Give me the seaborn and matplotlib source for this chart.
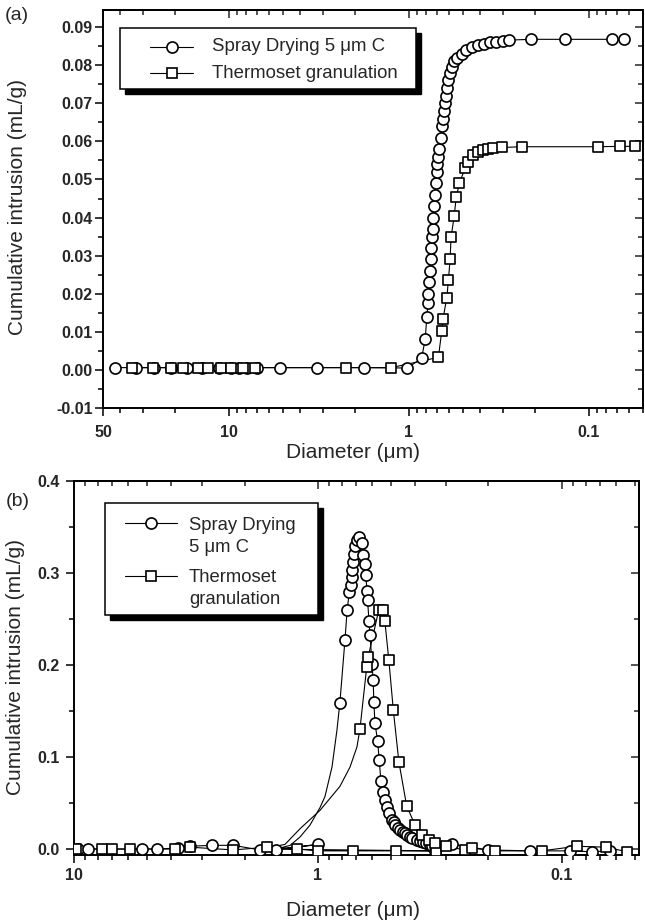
import matplotlib
matplotlib.use('Agg')
import matplotlib.pyplot as plt
import seaborn as sns
from matplotlib.lines import Line2D
from matplotlib.patches import Rectangle
from matplotlib.ticker import FixedLocator, NullFormatter, MultipleLocator, FormatStrFormatter, FuncFormatter

sns.set_style('ticks')
plt.rcParams['font.family'] = ['Liberation Sans', 'DejaVu Sans']
plt.rcParams['axes.unicode_minus'] = False

# ---- panel (a): cumulative intrusion ----
a_sd_d = [42.7, 32.8, 25.9, 20.9, 17.0, 14.1, 11.4, 9.76, 8.79, 7.91, 6.93, 5.19, 3.23, 1.77, 1.02,
          0.849, 0.810, 0.793, 0.781, 0.777, 0.768, 0.764, 0.756, 0.748, 0.745,
          0.737, 0.729, 0.725, 0.710, 0.706, 0.699, 0.692, 0.688, 0.681, 0.663,
          0.653, 0.646, 0.636, 0.626, 0.619, 0.613, 0.603, 0.590, 0.575, 0.557,
          0.537, 0.509, 0.483, 0.447, 0.413, 0.381, 0.352, 0.326, 0.301, 0.278,
          0.208, 0.136, 0.0744, 0.0636]
a_sd_v = [0.0006, 0.0006, 0.0006, 0.0006, 0.0006, 0.0006, 0.0006, 0.0006, 0.0006, 0.0006,
          0.0006, 0.0006, 0.0006, 0.0006, 0.0005,
          0.003, 0.008, 0.014, 0.0175, 0.020, 0.023, 0.026, 0.029, 0.032, 0.035,
          0.037, 0.040, 0.043, 0.046, 0.049, 0.052, 0.054, 0.056, 0.058, 0.061,
          0.064, 0.066, 0.068, 0.070, 0.072, 0.074, 0.076, 0.078, 0.0795, 0.081,
          0.082, 0.083, 0.084, 0.0848, 0.0853, 0.0857, 0.086, 0.0862, 0.0864, 0.0866,
          0.0868, 0.0868, 0.0868, 0.0868]

a_tg_d = [34.5, 26.5, 20.9, 17.9, 14.9, 13.1, 11.1, 9.76, 8.34, 7.12, 2.24, 1.25,
          0.684, 0.655, 0.645, 0.614, 0.602, 0.589, 0.582, 0.559, 0.545, 0.523,
          0.486, 0.466, 0.437, 0.410, 0.385, 0.361, 0.338, 0.304, 0.235, 0.0883,
          0.0667, 0.055]
a_tg_v = [0.0006, 0.0006, 0.0006, 0.0006, 0.0006, 0.0006, 0.0006, 0.0006, 0.0006, 0.0006,
          0.0006, 0.0006,
          0.0033, 0.0103, 0.0134, 0.019, 0.0235, 0.029, 0.0348, 0.0403, 0.0453, 0.049,
          0.053, 0.0546, 0.0564, 0.0573, 0.0577, 0.058, 0.0582, 0.0584, 0.0586, 0.0586,
          0.0587, 0.0587]

# ---- panel (b): log differential intrusion ----
# low pressure run (markers)
b_sd_low_d = [9.60, 8.74, 5.28, 4.58, 3.75, 3.35, 2.73, 2.22, 1.73, 1.48, 0.997]
b_sd_low_v = [0.000, 0.000, 0.000, 0.000, 0.001, 0.003, 0.004, 0.004, -0.001, -0.001, 0.005]
# smooth connecting curve (no markers)
b_sd_rise_d = [1.48, 1.30, 1.185, 1.078, 0.981, 0.936, 0.876, 0.836]
b_sd_rise_v = [0.000, 0.004, 0.013, 0.026, 0.045, 0.057, 0.089, 0.129]
# high pressure run (markers)
b_sd_high_d = [0.813, 0.775, 0.759, 0.744, 0.735, 0.727, 0.723, 0.717, 0.710, 0.703,
               0.694, 0.677, 0.662, 0.652, 0.642, 0.638, 0.628, 0.626, 0.618, 0.612,
               0.600, 0.594, 0.590, 0.584, 0.569, 0.561, 0.552, 0.540, 0.532, 0.520,
               0.510, 0.499, 0.490, 0.483, 0.470, 0.461, 0.450, 0.440, 0.430, 0.420,
               0.410, 0.394, 0.380, 0.370, 0.360, 0.348, 0.340, 0.331, 0.281, 0.200,
               0.135, 0.093, 0.0755, 0.0636]
b_sd_high_v = [0.159, 0.227, 0.260, 0.279, 0.287, 0.296, 0.303, 0.312, 0.321, 0.329,
               0.336, 0.339, 0.333, 0.320, 0.310, 0.298, 0.280, 0.271, 0.248, 0.233,
               0.201, 0.184, 0.160, 0.137, 0.117, 0.097, 0.074, 0.062, 0.053, 0.046,
               0.039, 0.032, 0.029, 0.026, 0.023, 0.021, 0.019, 0.017, 0.015, 0.013,
               0.0115, 0.0103, 0.009, 0.008, 0.006, 0.0043, 0.003, -0.002, 0.005, -0.001,
               -0.002, -0.002, -0.003, -0.002]

b_tg_low_d = [9.81, 7.70, 7.01, 5.89, 3.85, 3.35, 2.22, 1.62, 1.22, 0.997, 0.717, 0.479, 0.328]
b_tg_low_v = [0.000, 0.000, 0.000, 0.000, 0.000, 0.002, -0.001, 0.002, 0.000, -0.002, -0.002, -0.002, -0.002]
b_tg_rise_d = [1.70, 1.365, 1.185, 1.078, 0.981, 0.813, 0.739, 0.692]
b_tg_rise_v = [0.000, 0.005, 0.022, 0.032, 0.042, 0.068, 0.089, 0.111]
b_tg_high_d = [0.673, 0.631, 0.622, 0.563, 0.540, 0.532, 0.512, 0.491, 0.466, 0.433,
               0.400, 0.375, 0.352, 0.330, 0.300, 0.250, 0.234, 0.188, 0.121, 0.087,
               0.066, 0.054]
b_tg_high_v = [0.130, 0.198, 0.209, 0.260, 0.260, 0.248, 0.205, 0.151, 0.095, 0.047,
               0.026, 0.015, 0.010, 0.006, 0.003, -0.001, 0.001, -0.002, -0.002, 0.003,
               0.002, -0.003]

label_sd = 'Spray Drying 5 \u03bcm C'
label_tg = 'Thermoset granulation'
xlabel = 'Diameter (\u03bcm)'
ylabel = 'Cumulative intrusion (mL/g)'

W, H = 645, 922
fig = plt.figure(figsize=(W / 100, H / 100), dpi=100)


def fx(px):
    return px / W


def fy(py):
    return 1 - py / H


def ident(x):
    return x


def draw(ax, line_d, line_v, pts_d, pts_v, marker, size):
    sns.lineplot(x=line_d, y=line_v, ax=ax, sort=False, estimator=None,
                 color='k', lw=0.8, zorder=2)
    sns.scatterplot(x=pts_d, y=pts_v, ax=ax, marker=marker, s=size,
                    color='white', edgecolor='k', linewidth=1.2, zorder=3)


def style(ax, xlim, ylim, xmajor, xminor, ystep, yfmt, xpad, ypad):
    ax.set_xscale('log')
    ax.set_xlim(xlim)
    ax.set_ylim(ylim)
    ax.xaxis.set_major_locator(FixedLocator(xmajor))
    ax.xaxis.set_major_formatter(FuncFormatter(lambda v, p: '%g' % v))
    ax.xaxis.set_minor_locator(FixedLocator(xminor))
    ax.xaxis.set_minor_formatter(NullFormatter())
    ax.yaxis.set_major_locator(MultipleLocator(ystep))
    ax.yaxis.set_minor_locator(MultipleLocator(ystep / 2))
    ax.yaxis.set_major_formatter(FormatStrFormatter(yfmt))
    ax.set_xlabel('')
    ax.set_ylabel('')
    ax.tick_params(which='both', direction='out', width=1.1, top=False, right=False,
                   labelsize=11.5, color='k')
    ax.tick_params(which='major', length=6)
    ax.tick_params(which='minor', length=3.5)
    ax.tick_params(axis='x', pad=xpad)
    ax.tick_params(axis='y', pad=ypad)
    plt.setp(ax.get_xticklabels() + ax.get_yticklabels(), fontweight='bold')
    for sp in ax.spines.values():
        sp.set_linewidth(1.4)
        sp.set_color('k')
        sp.set_visible(True)
    top = ax.secondary_xaxis('top', functions=(ident, ident))
    top.xaxis.set_major_locator(FixedLocator(xmajor))
    top.xaxis.set_minor_locator(FixedLocator(xminor))
    top.tick_params(which='both', direction='in', labeltop=False, width=1.1)
    top.tick_params(which='major', length=6)
    top.tick_params(which='minor', length=3.5)
    top.spines['top'].set_linewidth(1.4)
    right = ax.secondary_yaxis('right', functions=(ident, ident))
    right.yaxis.set_major_locator(MultipleLocator(ystep))
    right.yaxis.set_minor_locator(MultipleLocator(ystep / 2))
    right.tick_params(which='both', direction='in', labelright=False, width=1.1)
    right.tick_params(which='major', length=6)
    right.tick_params(which='minor', length=3.5)
    right.spines['right'].set_linewidth(1.4)


def key_box(x0, y0, x1, y1):
    fig.add_artist(Rectangle((fx(x0 + 5), fy(y1 + 5)), fx(x1) - fx(x0), fy(y0) - fy(y1),
                             transform=fig.transFigure, facecolor='k', edgecolor='k', zorder=4))
    fig.add_artist(Rectangle((fx(x0), fy(y1)), fx(x1) - fx(x0), fy(y0) - fy(y1),
                             transform=fig.transFigure, facecolor='white', edgecolor='k',
                             lw=1.1, zorder=5))


def key_item(x0, x1, y, marker, ms):
    fig.add_artist(Line2D([fx(x0), fx(x1)], [fy(y), fy(y)], transform=fig.transFigure,
                          color='k', lw=0.8, zorder=6))
    fig.add_artist(Line2D([fx((x0 + x1) / 2)], [fy(y)], transform=fig.transFigure, ls='none',
                          marker=marker, ms=ms, mfc='white', mec='k', mew=1.2, zorder=7))


# ---------- panel (a) ----------
ax_a = fig.add_axes([fx(103), fy(408), fx(643) - fx(103), fy(10) - fy(408)])
draw(ax_a, a_sd_d, a_sd_v, a_sd_d, a_sd_v, 'o', 64)
draw(ax_a, a_tg_d, a_tg_v, a_tg_d, a_tg_v, 's', 42)
minor_a = [40, 30, 20, 9, 8, 7, 6, 5, 4, 3, 2, 0.9, 0.8, 0.7, 0.6, 0.5, 0.4, 0.3, 0.2,
           0.09, 0.08, 0.07, 0.06, 0.05]
style(ax_a, (50, 0.0499), (-0.01, 0.0945), [50, 10, 1, 0.1], minor_a, 0.01, '%.2f', 6, 1.5)

key_box(120, 28, 416, 89)
key_item(150, 193, 46.7, 'o', 8)
key_item(150, 193, 73.3, 's', 6.5)
fig.text(fx(212), fy(46.7), label_sd, fontsize=13.4, va='center', ha='left', zorder=8)
fig.text(fx(212), fy(73.3), label_tg, fontsize=13.4, va='center', ha='left', zorder=8)

fig.text(fx(17), fy(15), '(a)', fontsize=14, ha='center', va='center')
fig.text(fx(353), fy(452), xlabel, fontsize=15, ha='center', va='center')
fig.text(fx(18), fy(207), ylabel, fontsize=15, ha='center', va='center', rotation=90)

# ---------- panel (b) ----------
ax_b = fig.add_axes([fx(74), fy(855), fx(639) - fx(74), fy(481) - fy(855)])
draw(ax_b, b_sd_low_d + b_sd_rise_d + b_sd_high_d, b_sd_low_v + b_sd_rise_v + b_sd_high_v,
     b_sd_low_d + b_sd_high_d, b_sd_low_v + b_sd_high_v, 'o', 64)
draw(ax_b, b_tg_low_d + b_tg_rise_d + b_tg_high_d, b_tg_low_v + b_tg_rise_v + b_tg_high_v,
     b_tg_low_d + b_tg_high_d, b_tg_low_v + b_tg_high_v, 's', 42)
minor_b = [9, 8, 7, 6, 5, 4, 3, 2, 0.9, 0.8, 0.7, 0.6, 0.5, 0.4, 0.3, 0.2,
           0.09, 0.08, 0.07, 0.06, 0.05]
style(ax_b, (10, 0.0483), (-0.0065, 0.4), [10, 1, 0.1], minor_b, 0.1, '%.1f', 3, 4)

key_box(105, 503, 318, 615)
key_item(125, 177, 523, 'o', 8)
key_item(125, 177, 576, 's', 6.5)
fig.text(fx(189), fy(525), 'Spray Drying', fontsize=13.3, va='center', ha='left', zorder=8)
fig.text(fx(189), fy(548), '5 \u03bcm C', fontsize=13.3, va='center', ha='left', zorder=8)
fig.text(fx(189), fy(578), 'Thermoset', fontsize=13.3, va='center', ha='left', zorder=8)
fig.text(fx(189), fy(600), 'granulation', fontsize=13.3, va='center', ha='left', zorder=8)

fig.text(fx(18), fy(501), '(b)', fontsize=14, ha='center', va='center')
fig.text(fx(353), fy(910), xlabel, fontsize=15, ha='center', va='center')
fig.text(fx(16), fy(667), ylabel, fontsize=15, ha='center', va='center', rotation=90)

fig.savefig('out.png', dpi=100)
